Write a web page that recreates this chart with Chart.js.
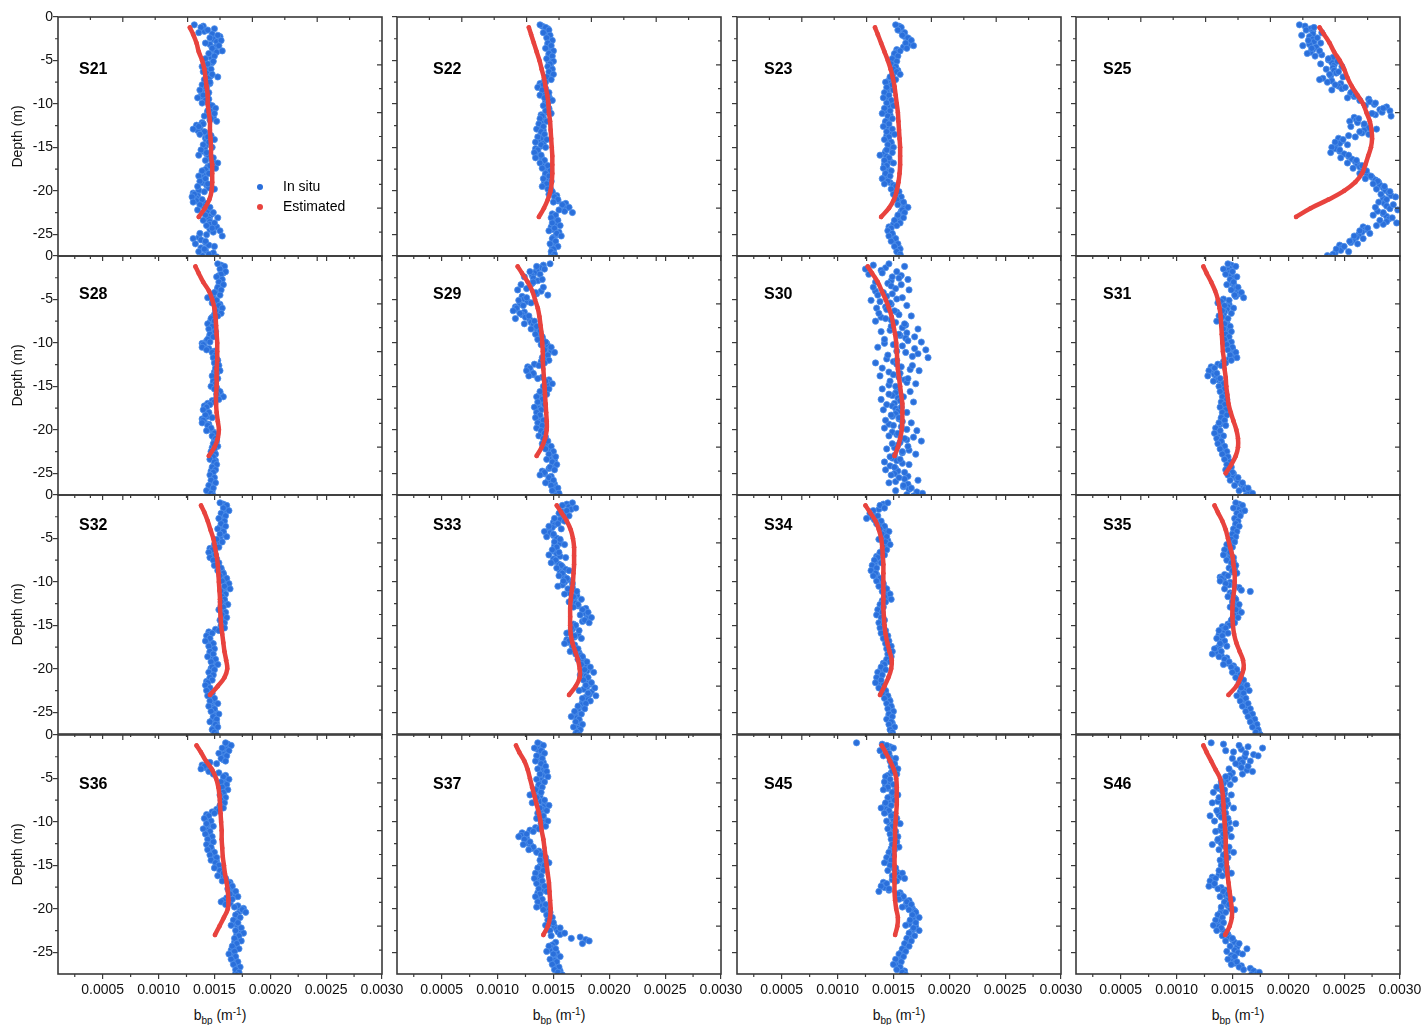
<!DOCTYPE html>
<html>
<head>
<meta charset="utf-8">
<script src="https://cdn.jsdelivr.net/npm/chart.js@4.4.1/dist/chart.umd.min.js"></script>
<style>
  html, body { margin: 0; padding: 0; background: #fff; }
  body { width: 1425px; height: 1025px; overflow: hidden; position: relative; }
  canvas { position: absolute; }
  .xt { position: absolute; top: 1007px; width: 324px; text-align: center;
        font: 14px "Liberation Sans", Arial, sans-serif; line-height: 16px; color: #111; }
  .xt sub { font-size: 10px; vertical-align: -4px; line-height: 0; }
  .xt sup { font-size: 10px; vertical-align: 5px; line-height: 0; }
</style>
</head>
<body>
<div class="xt" style="left:58px">b<sub>bp</sub> (m<sup>-1</sup>)</div>
<div class="xt" style="left:397px">b<sub>bp</sub> (m<sup>-1</sup>)</div>
<div class="xt" style="left:737px">b<sub>bp</sub> (m<sup>-1</sup>)</div>
<div class="xt" style="left:1076px">b<sub>bp</sub> (m<sup>-1</sup>)</div>
<script>
// x values are b_bp in units of 1e-4 m^-1, depths in m (negative = below surface)

// depth grids of the in situ profiles (two interleaved sample sets)
const inSituDepth = [
  -0.9, -1.2, -1.5, -1.8, -2.1, -2.4, -2.7, -3.0,
  -3.3, -3.6, -3.9, -4.2, -4.5, -4.8, -5.1, -5.4, -5.7, -6.0,
  -6.3, -6.6, -6.9, -7.2, -7.5, -7.8, -8.1, -8.4, -8.7, -9.0,
  -9.3, -9.6, -9.9, -10.2, -10.5, -10.8, -11.1, -11.4, -11.7, -12.0,
  -12.3, -12.6, -12.9, -13.2, -13.5, -13.8, -14.1, -14.4, -14.7, -15.0,
  -15.3, -15.6, -15.9, -16.2, -16.5, -16.8, -17.1, -17.4, -17.7, -18.0,
  -18.3, -18.6, -18.9, -19.2, -19.5, -19.8, -20.1, -20.4, -20.7, -21.0,
  -21.3, -21.6, -21.9, -22.2, -22.5, -22.8, -23.1, -23.4, -23.7, -24.0,
  -24.3, -24.6, -24.9, -25.2, -25.5, -25.8, -26.1, -26.4, -26.7, -27.0,
  -27.3, -27.6
];
const inSituDepthB = [
  -1.05, -1.35, -1.65, -1.95, -2.25, -2.55, -2.85,
  -3.15, -3.45, -3.75, -4.05, -4.35, -4.65, -4.95, -5.25, -5.55, -5.85,
  -6.15, -6.45, -6.75, -7.05, -7.35, -7.65, -7.95, -8.25, -8.55, -8.85,
  -9.15, -9.45, -9.75, -10.05, -10.35, -10.65, -10.95, -11.25, -11.55, -11.85,
  -12.15, -12.45, -12.75, -13.05, -13.35, -13.65, -13.95, -14.25, -14.55, -14.85,
  -15.15, -15.45, -15.75, -16.05, -16.35, -16.65, -16.95, -17.25, -17.55, -17.85,
  -18.15, -18.45, -18.75, -19.05, -19.35, -19.65, -19.95, -20.25, -20.55, -20.85,
  -21.15, -21.45, -21.75, -22.05, -22.35, -22.65, -22.95, -23.25, -23.55, -23.85,
  -24.15, -24.45, -24.75, -25.05, -25.35, -25.65, -25.95, -26.25, -26.55, -26.85,
  -27.15, -27.45
];

// depth grid of the estimated profiles
const estDepth = [-1.2, -2, -3, -4, -5, -6, -7, -8, -9, -10, -11, -12, -13,
  -14, -15, -16, -17, -18, -19, -20, -21, -22, -23, -24, -25];

const xTickMinor = [2.5, 7.5, 12.5, 17.5, 22.5, 27.5];
const yTickMinor = [-2.5, -7.5, -12.5, -17.5, -22.5];

// ---- row 1 ----
const s21InSitu = [13.2, 13.8, 14.4, 13.6, 15.3, 14.6, 15.6, 14.2,
  15.4, 14.8, 15.7, 14.5, 15.0, 14.2, 14.9, 14.4, 13.9, 14.7,
  14.0, 14.8, 15.3, 14.1, 14.6, 13.9, 14.3, 13.7, 14.5, 14.0,
  13.5, 14.2, 13.9, 14.8, 15.1, 14.4, 15.0, 14.1, 14.7, 15.2,
  14.0, 13.6, 13.1, 14.1, 13.7, 14.4, 15.0, 14.5, 14.0, 14.8,
  13.8, 14.3, 13.6, 14.9, 14.2, 15.3, 14.6, 15.1, 13.9, 14.5,
  13.6, 14.2, 13.7, 14.4, 13.5, 15.0, 14.1, 13.2, 13.0, 13.9,
  13.1, 13.7, 14.6, 13.5, 14.9, 14.2, 15.3, 14.0, 15.0, 14.3,
  14.8, 15.5, 13.7, 15.7, 13.1, 14.2, 13.3, 15.0, 14.1, 13.6,
  14.5, 15.2];
const s21InSituB = [14.0, 15.0, 14.1, 14.8, 15.5, 14.9, 15.2,
  14.6, 15.1, 14.9, 15.2, 14.6, 14.7, 14.1, 14.8, 14.3, 14.2,
  14.4, 14.3, 14.7, 14.5, 14.2, 14.6, 14.0, 14.1, 13.8, 14.4,
  13.8, 14.5, 14.3, 14.5, 14.7, 14.8, 14.4, 14.5, 14.9, 14.6,
  13.9, 13.4, 13.7, 13.5, 14.2, 14.7, 14.2, 14.3, 14.5, 14.2,
  14.1, 13.9, 14.3, 14.5, 14.7, 14.9, 14.8, 14.4, 14.2, 13.9,
  14.0, 13.9, 14.1, 13.9, 14.3, 14.5, 13.6, 13.1, 13.5, 13.4,
  13.4, 14.2, 14.0, 14.3, 14.5, 14.8, 14.6, 14.5, 14.6, 14.6,
  15.2, 14.6, 14.9, 14.3, 13.6, 13.8, 14.2, 14.5, 13.8, 14.2,
  14.9, 13.9];
const s21Est = [12.8, 13.1, 13.4, 13.6, 13.9, 14.1, 14.2, 14.3, 14.4, 14.4, 14.5, 14.6,
  14.6, 14.65, 14.7, 14.7, 14.8, 14.8, 14.8, 14.75, 14.55, 14.15, 13.6];

const s22InSitu = [13.8, 14.3, 14.6, 14.1, 14.7, 14.4, 14.9, 14.5,
  14.8, 14.3, 15.0, 14.6, 14.9, 14.4, 15.0, 14.7, 14.5, 14.9,
  14.6, 15.0, 14.4, 14.8, 14.3, 14.1, 13.6, 14.0, 14.6, 13.8,
  14.2, 14.9, 14.5, 14.1, 14.6, 14.3, 14.8, 14.0, 13.8, 14.4,
  13.7, 14.1, 13.5, 13.9, 14.2, 13.6, 14.4, 13.4, 13.9, 14.3,
  13.6, 13.3, 13.9, 13.4, 14.2, 13.8, 14.5, 14.0, 14.7, 14.3,
  14.6, 14.1, 14.8, 14.4, 14.0, 14.5, 14.9, 14.6, 15.1, 15.4,
  15.0, 15.8, 16.4, 15.5, 16.7, 15.2, 14.8, 15.4, 14.9, 15.6,
  15.1, 14.6, 15.3, 15.7, 14.9, 15.2, 14.7, 15.4, 15.0, 14.8,
  15.1, 14.9];
const s22InSituB = [14.0, 14.5, 14.3, 14.4, 14.6, 14.7, 14.7,
  14.5, 14.7, 14.8, 14.7, 14.6, 14.7, 14.8, 14.6, 14.7, 14.8,
  14.8, 14.7, 14.6, 14.5, 14.2, 13.8, 13.9, 14.3, 14.1, 14.0,
  14.6, 14.7, 14.3, 14.4, 14.5, 14.6, 14.4, 13.9, 14.1, 14.0,
  13.9, 13.8, 13.7, 14.1, 13.9, 14.0, 13.9, 13.6, 14.1, 13.9,
  13.4, 13.6, 13.6, 13.8, 14.0, 14.1, 14.2, 14.4, 14.5, 14.4,
  14.3, 14.5, 14.6, 14.2, 14.3, 14.7, 14.8, 14.9, 15.3, 15.2,
  15.4, 16.1, 15.9, 16.1, 16.0, 14.9, 15.1, 15.2, 15.3, 15.2,
  14.8, 15.0, 15.5, 15.3, 15.0, 15.0, 15.1, 15.2, 14.9, 15.0,
  15.0, 14.8];
const s22Est = [12.8, 13.0, 13.25, 13.5, 13.75, 13.95, 14.15, 14.3, 14.45, 14.55, 14.6, 14.7,
  14.75, 14.8, 14.85, 14.9, 14.9, 14.9, 14.85, 14.75, 14.5, 14.15, 13.7];

const s23InSitu = [15.2, 15.7, 15.4, 16.0, 15.8, 16.3, 16.6, 16.1,
  16.8, 16.2, 15.6, 15.1, 15.4, 14.9, 15.3, 14.8, 15.2, 15.0,
  15.3, 15.6, 14.7, 15.2, 14.3, 14.9, 14.4, 15.0, 14.2, 14.6,
  14.1, 14.8, 14.4, 15.0, 14.2, 14.7, 14.0, 14.5, 14.9, 14.3,
  14.6, 14.1, 14.9, 14.4, 15.1, 14.6, 14.2, 14.8, 14.5, 15.0,
  14.4, 14.9, 13.8, 14.6, 14.2, 15.0, 14.4, 14.1, 14.8, 14.3,
  14.7, 14.0, 14.5, 14.2, 15.2, 14.8, 15.5, 15.0, 15.7, 15.3,
  15.9, 15.4, 16.3, 15.8, 16.0, 15.4, 15.9, 15.1, 15.6, 15.3,
  14.8, 14.5, 14.9, 14.6, 15.2, 14.8, 15.4, 15.1, 15.6, 15.3,
  15.6, 15.5];
const s23InSituB = [15.5, 15.6, 15.7, 15.9, 16.0, 16.4, 16.3,
  16.5, 15.9, 15.3, 15.3, 15.1, 15.1, 15.0, 15.0, 15.1, 15.2,
  15.4, 15.0, 14.9, 14.7, 14.6, 14.6, 14.7, 14.6, 14.4, 14.3,
  14.5, 14.6, 14.7, 14.6, 14.5, 14.3, 14.2, 14.7, 14.6, 14.5,
  14.3, 14.5, 14.6, 14.8, 14.8, 14.4, 14.5, 14.6, 14.8, 14.7,
  14.6, 14.3, 14.2, 14.4, 14.6, 14.7, 14.2, 14.4, 14.5, 14.5,
  14.3, 14.2, 14.4, 14.7, 15.0, 15.2, 15.2, 15.4, 15.5, 15.6,
  15.6, 15.9, 16.0, 15.9, 15.7, 15.6, 15.5, 15.3, 15.4, 15.0,
  14.6, 14.7, 14.7, 14.9, 15.0, 15.1, 15.2, 15.3, 15.5, 15.4,
  15.5, 15.6];
const s23Est = [13.35, 13.6, 13.9, 14.2, 14.5, 14.75, 14.95, 15.1, 15.2, 15.3, 15.4, 15.45,
  15.5, 15.55, 15.6, 15.6, 15.6, 15.55, 15.45, 15.3, 15.05, 14.6, 13.9];

const s25InSitu = [21.0, 22.3, 21.6, 23.0, 21.2, 22.6, 21.8, 22.9,
  21.3, 22.1, 22.8, 21.7, 22.4, 23.6, 24.4, 22.9, 24.8, 23.4,
  24.5, 23.7, 24.9, 22.8, 23.5, 24.2, 25.1, 23.9, 25.6, 26.0,
  25.3, 26.4, 27.8, 26.9, 28.5, 29.1, 27.5, 29.2, 26.3, 25.5,
  26.8, 25.6, 27.9, 26.4, 27.2, 26.0, 24.9, 24.2, 25.3, 23.9,
  24.6, 23.8, 25.4, 24.7, 26.1, 25.3, 26.6, 25.8, 27.0, 26.4,
  27.4, 26.9, 28.0, 27.6, 28.6, 27.9, 29.1, 28.3, 29.6, 28.8,
  28.1, 29.4, 27.8, 29.8, 28.5, 27.6, 29.3, 28.2, 29.7, 27.9,
  27.1, 26.4, 27.3, 25.9, 26.7, 25.5, 26.2, 25.0, 24.3, 25.4,
  24.0, 23.8];
const s25InSituB = [21.5, 22.0, 22.2, 22.2, 21.9, 22.2, 22.3,
  21.9, 22.5, 22.2, 22.0, 23.0, 24.0, 23.6, 23.9, 24.1, 24.0,
  24.1, 24.3, 23.8, 23.1, 23.9, 24.7, 24.5, 24.8, 25.8, 25.6,
  25.9, 27.2, 27.3, 27.7, 28.8, 28.2, 28.4, 27.8, 25.9, 26.1,
  26.2, 26.8, 27.2, 26.8, 26.6, 25.4, 24.5, 24.8, 24.6, 24.2,
  24.2, 24.6, 25.0, 25.4, 25.7, 26.0, 26.2, 26.4, 26.7, 26.9,
  27.1, 27.5, 27.8, 28.1, 28.2, 28.5, 28.7, 29.0, 29.2, 28.5,
  28.7, 28.6, 28.8, 29.1, 28.0, 28.5, 28.8, 29.0, 28.8, 28.5,
  26.7, 26.9, 26.6, 26.3, 26.1, 25.8, 25.6, 24.6, 24.8, 24.7,
  24.2, 23.5];
const s25Est = [22.8, 23.2, 23.7, 24.1, 24.6, 25.0, 25.3, 25.7, 26.2, 26.7, 27.0, 27.3,
  27.45, 27.5, 27.4, 27.15, 26.9, 26.6, 26.0, 25.0, 23.6, 22.0, 20.7];

// ---- row 2 ----
const s28InSitu = [15.3, 15.9, 15.5, 16.0, 15.6, 15.2, 15.7, 15.4,
  15.8, 15.3, 15.6, 15.0, 15.5, 14.4, 15.2, 14.8, 15.4, 15.7,
  15.1, 15.6, 15.3, 14.7, 15.0, 14.4, 14.8, 14.5, 15.1, 14.6,
  14.9, 14.4, 14.6, 14.0, 13.9, 14.3, 14.8, 15.1, 14.9, 15.3,
  15.0, 15.4, 15.1, 15.5, 15.2, 14.8, 15.3, 14.9, 15.1, 14.7,
  15.0, 15.5, 15.2, 15.8, 15.4, 15.0, 14.6, 14.3, 14.0, 14.5,
  14.2, 14.8, 14.0, 13.9, 14.4, 14.7, 14.3, 15.0, 14.8, 15.1,
  15.2, 14.9, 15.3, 15.0, 14.7, 15.1, 14.9, 14.6, 15.0, 15.2,
  14.8, 15.1, 14.9, 14.6, 15.0, 14.7, 15.1, 14.5, 14.9, 14.3,
  14.7, 14.9];
const s28InSituB = [15.6, 15.7, 15.8, 15.8, 15.4, 15.5, 15.6,
  15.5, 15.4, 15.3, 15.2, 14.9, 14.8, 15.0, 15.1, 15.5, 15.4,
  15.4, 15.4, 15.0, 14.8, 14.7, 14.6, 14.6, 14.8, 14.8, 14.7,
  14.6, 14.5, 14.3, 13.9, 14.1, 14.5, 15.0, 15.0, 15.1, 15.2,
  15.2, 15.3, 15.3, 15.3, 15.0, 15.0, 15.1, 15.0, 14.9, 14.9,
  15.2, 15.3, 15.5, 15.6, 15.2, 14.8, 14.4, 14.1, 14.2, 14.3,
  14.5, 14.4, 13.9, 14.1, 14.5, 14.5, 14.6, 14.9, 14.9, 15.2,
  15.0, 15.1, 15.1, 14.8, 14.9, 15.0, 14.8, 14.8, 15.1, 15.0,
  14.9, 15.0, 14.7, 14.8, 14.8, 14.9, 14.8, 14.7, 14.6, 14.5,
  14.8, 14.6];
const s28Est = [13.3, 13.6, 14.0, 14.5, 14.8, 15.0, 15.1, 15.15, 15.2, 15.25, 15.25, 15.25,
  15.2, 15.2, 15.2, 15.15, 15.15, 15.2, 15.3, 15.4, 15.3, 15.0, 14.5];

const s29InSitu = [14.7, 13.5, 14.2, 12.9, 13.8, 12.4, 14.0, 13.2,
  12.1, 14.1, 11.8, 13.4, 14.5, 12.6, 11.9, 13.0, 12.3, 11.7,
  11.4, 12.0, 12.8, 11.6, 13.3, 12.4, 13.5, 13.0, 13.8, 13.4,
  14.0, 13.6, 14.3, 13.9, 14.8, 14.2, 15.1, 14.5, 14.0, 14.6,
  14.2, 13.7, 12.9, 12.6, 13.2, 12.8, 13.6, 14.3, 14.9, 14.1,
  14.6, 13.8, 14.4, 13.5, 14.0, 13.6, 14.2, 13.3, 13.9, 13.5,
  13.8, 13.4, 14.1, 13.6, 14.0, 13.5, 13.9, 14.2, 13.7, 14.1,
  14.5, 14.0, 14.8, 14.3, 15.0, 14.6, 15.2, 14.4, 14.9, 15.3,
  14.7, 15.1, 14.2, 13.8, 14.6, 15.0, 14.3, 14.8, 15.4, 14.9,
  15.5, 15.2];
const s29InSituB = [14.1, 13.8, 13.5, 13.3, 13.1, 13.2, 13.6,
  13.1, 12.9, 12.6, 13.9, 13.5, 12.2, 12.4, 12.7, 12.0, 11.6,
  11.7, 12.4, 12.2, 12.5, 12.9, 13.0, 13.2, 13.4, 13.6, 13.7,
  13.8, 14.0, 14.1, 14.4, 14.5, 14.7, 14.8, 14.3, 14.3, 14.4,
  13.9, 13.3, 12.7, 12.9, 13.0, 13.2, 14.0, 14.6, 14.5, 14.4,
  14.2, 14.1, 13.9, 13.7, 13.8, 13.9, 13.7, 13.6, 13.7, 13.7,
  13.6, 13.8, 13.8, 13.8, 13.7, 13.7, 14.0, 14.0, 13.9, 14.3,
  14.2, 14.4, 14.5, 14.6, 14.8, 14.9, 14.8, 14.6, 15.1, 15.0,
  14.9, 14.6, 14.0, 14.2, 14.8, 14.6, 14.5, 15.1, 15.1, 15.2,
  15.3, 15.4];
const s29Est = [11.8, 12.2, 12.7, 13.1, 13.35, 13.6, 13.75, 13.85, 13.95, 14.0, 14.05, 14.05,
  14.1, 14.15, 14.2, 14.25, 14.3, 14.35, 14.4, 14.4, 14.25, 13.95, 13.5];

const s30InSitu = [14.6, 16.0, 12.5, 15.3, 12.8, 14.9, 16.3, 13.4,
  15.7, 13.2, 16.4, 14.1, 13.6, 15.8, 13.0, 14.7, 16.2, 13.5,
  15.1, 13.7, 16.6, 14.3, 13.4, 16.0, 14.8, 17.2, 13.9, 15.5,
  16.9, 14.2, 17.5, 15.0, 13.6, 17.9, 16.1, 14.5, 18.1, 15.3,
  13.4, 16.7, 14.0, 17.3, 15.6, 13.8, 16.3, 14.7, 17.0, 15.2,
  14.0, 16.5, 14.6, 15.9, 13.9, 16.8, 14.4, 15.7, 14.1, 16.2,
  14.8, 15.5, 14.3, 16.6, 15.0, 14.2, 17.1, 15.4, 14.6, 16.0,
  17.5, 14.9, 16.3, 14.4, 15.8, 17.0, 14.7, 15.6, 14.2, 16.4,
  15.1, 14.3, 16.0, 14.8, 15.5, 17.2, 14.6, 15.9, 16.6, 15.2,
  17.6, 16.8];
const s30InSituB = [13.2, 14.3, 13.9, 14.0, 15.7, 15.5, 14.8,
  14.5, 14.8, 15.2, 13.4, 14.9, 14.4, 15.3, 13.8, 14.8, 14.3,
  14.4, 15.3, 15.5, 13.9, 14.8, 15.2, 16.1, 15.8, 14.7, 16.2,
  15.6, 16.1, 16.3, 14.2, 15.8, 16.9, 15.3, 17.2, 16.7, 14.4,
  15.0, 15.3, 15.7, 16.5, 14.6, 15.0, 15.5, 16.0, 16.2, 14.6,
  15.3, 15.5, 15.2, 14.9, 15.4, 15.6, 15.1, 14.9, 15.2, 15.4,
  15.2, 14.9, 15.5, 15.8, 14.6, 15.7, 16.2, 14.9, 15.3, 16.8,
  16.2, 15.6, 15.4, 15.1, 16.4, 15.8, 15.1, 14.9, 15.3, 15.8,
  14.7, 15.2, 15.4, 15.1, 16.3, 16.0, 15.2, 16.3, 15.9, 16.4,
  17.1, 16.2];
const s30Est = [12.7, 13.1, 13.6, 13.95, 14.3, 14.6, 14.85, 15.0, 15.15, 15.25, 15.3, 15.35,
  15.4, 15.5, 15.6, 15.7, 15.8, 15.8, 15.8, 15.75, 15.6, 15.4, 15.1];

const s31InSitu = [14.6, 15.3, 14.2, 15.0, 14.4, 15.4, 14.8, 15.1,
  14.5, 15.5, 14.9, 15.8, 15.2, 16.0, 14.7, 13.7, 14.3, 15.1,
  14.1, 14.9, 13.8, 14.6, 13.6, 14.3, 14.8, 14.2, 14.9, 14.4,
  14.7, 14.3, 14.9, 14.5, 15.0, 14.6, 15.3, 14.8, 15.4, 14.9,
  14.4, 14.0, 13.4, 12.9, 13.6, 12.8, 13.9, 13.3, 14.2, 13.8,
  14.3, 13.9, 14.4, 14.1, 14.5, 14.0, 14.3, 13.9, 14.4, 14.1,
  14.5, 14.0, 14.3, 13.8, 14.4, 13.5, 13.9, 13.4, 14.2, 13.6,
  14.0, 13.7, 14.3, 13.9, 14.5, 14.1, 14.6, 14.3, 14.8, 14.5,
  14.9, 14.4, 15.0, 14.6, 15.5, 14.8, 15.9, 15.2, 16.4, 15.6,
  16.8, 16.2];
const s31InSituB = [14.9, 14.7, 14.6, 14.7, 14.9, 15.1, 14.9,
  15.0, 15.2, 15.3, 15.5, 15.6, 15.3, 14.2, 14.0, 14.7, 14.6,
  14.5, 14.3, 14.2, 14.1, 13.9, 14.5, 14.5, 14.6, 14.6, 14.5,
  14.5, 14.6, 14.7, 14.7, 14.8, 15.0, 15.1, 15.1, 15.2, 14.7,
  14.2, 13.7, 13.1, 13.2, 13.2, 13.4, 13.6, 13.7, 14.0, 14.1,
  14.1, 14.2, 14.2, 14.3, 14.2, 14.2, 14.1, 14.2, 14.3, 14.3,
  14.2, 14.1, 14.0, 14.1, 13.9, 13.7, 13.6, 13.8, 13.9, 13.8,
  13.9, 14.0, 14.1, 14.2, 14.3, 14.4, 14.4, 14.6, 14.6, 14.7,
  14.6, 14.7, 14.8, 15.1, 15.1, 15.4, 15.5, 15.8, 16.0, 16.1,
  16.5, 16.4];
const s31Est = [12.4, 12.7, 13.1, 13.45, 13.7, 13.85, 13.95, 14.0, 14.05, 14.1, 14.15, 14.25,
  14.3, 14.4, 14.45, 14.55, 14.65, 14.85, 15.1, 15.35, 15.5, 15.5, 15.3, 14.9, 14.4];

// ---- row 3 ----
const s32InSitu = [15.5, 16.1, 15.8, 16.3, 15.6, 16.0, 15.4, 15.9,
  15.6, 16.0, 15.3, 15.8, 15.5, 16.1, 15.2, 15.7, 15.0, 15.4,
  14.8, 14.5, 15.1, 14.6, 14.9, 15.4, 15.0, 15.6, 15.3, 15.8,
  15.5, 16.1, 15.7, 16.3, 15.9, 16.4, 15.6, 16.0, 15.7, 15.9,
  15.6, 16.2, 15.8, 15.4, 16.0, 15.7, 16.1, 15.5, 15.9, 15.6,
  15.9, 15.4, 14.8, 14.3, 14.6, 14.2, 14.9, 14.5, 15.0, 14.6,
  14.9, 14.4, 15.1, 14.7, 15.3, 14.8, 15.0, 14.5, 14.9, 14.6,
  14.8, 14.4, 14.2, 14.6, 14.3, 14.8, 14.4, 15.0, 14.6, 15.3,
  14.5, 15.0, 14.7, 15.4, 14.9, 15.2, 14.6, 15.1, 15.3, 14.8,
  15.0, 15.2];
const s32InSituB = [15.8, 15.9, 16.1, 15.9, 15.8, 15.7, 15.6,
  15.8, 15.6, 15.5, 15.7, 15.8, 15.6, 15.5, 15.3, 15.2, 15.1,
  14.6, 14.8, 14.8, 14.7, 15.2, 15.2, 15.3, 15.4, 15.6, 15.7,
  15.8, 15.9, 16.0, 16.1, 16.2, 16.0, 15.8, 15.8, 15.8, 15.8,
  15.9, 16.0, 15.6, 15.7, 15.8, 15.9, 15.8, 15.7, 15.7, 15.8,
  15.6, 15.1, 14.5, 14.5, 14.4, 14.5, 14.7, 14.7, 14.8, 14.8,
  14.6, 14.7, 14.9, 15.0, 15.0, 14.9, 14.7, 14.7, 14.8, 14.7,
  14.6, 14.3, 14.4, 14.4, 14.5, 14.6, 14.7, 14.8, 14.9, 14.9,
  14.7, 14.8, 15.0, 15.1, 15.0, 14.9, 14.8, 15.2, 15.0, 14.9,
  15.1, 15.1];
const s32Est = [13.8, 14.1, 14.4, 14.65, 14.9, 15.05, 15.2, 15.3, 15.35, 15.4, 15.45, 15.5,
  15.5, 15.55, 15.6, 15.7, 15.8, 15.9, 16.05, 16.15, 15.9, 15.3, 14.6];

const s33InSitu = [16.7, 15.8, 17.0, 16.2, 15.5, 16.4, 15.1, 16.0,
  15.4, 14.6, 15.7, 14.2, 15.0, 14.4, 15.6, 15.1, 16.0, 15.3,
  14.9, 15.5, 14.6, 16.1, 15.2, 14.8, 15.7, 15.3, 16.4, 15.8,
  15.5, 16.2, 15.9, 16.7, 15.4, 16.3, 17.1, 16.0, 16.8, 17.5,
  16.4, 17.2, 16.8, 17.6, 18.1, 17.4, 18.4, 17.8, 18.2, 17.0,
  16.6, 17.3, 16.2, 16.9, 17.5, 16.4, 16.0, 16.7, 17.2, 16.5,
  17.0, 17.6, 17.2, 18.0, 17.5, 18.3, 17.8, 18.6, 17.4, 18.1,
  17.7, 18.4, 17.9, 18.7, 17.3, 18.1, 18.8, 17.6, 18.3, 17.9,
  17.2, 17.8, 16.9, 17.5, 16.6, 17.3, 17.0, 17.6, 16.8, 17.4,
  17.1, 17.3];
const s33InSituB = [16.2, 16.4, 16.6, 15.8, 15.9, 15.7, 15.6,
  15.0, 15.1, 14.9, 14.6, 14.7, 15.0, 15.3, 15.6, 15.6, 15.1,
  15.2, 15.0, 15.3, 15.6, 15.0, 15.2, 15.5, 15.8, 16.1, 15.6,
  15.8, 16.0, 16.3, 16.0, 15.8, 16.7, 16.5, 16.4, 17.1, 16.9,
  16.8, 17.0, 17.2, 17.9, 17.7, 17.9, 18.1, 18.0, 17.6, 16.8,
  16.9, 16.7, 16.5, 17.2, 16.9, 16.2, 16.3, 16.9, 16.8, 16.7,
  17.3, 17.4, 17.6, 17.7, 17.9, 18.0, 18.2, 18.0, 17.7, 17.9,
  18.0, 18.1, 18.3, 18.0, 17.7, 18.4, 18.2, 17.9, 18.1, 17.6,
  17.5, 17.3, 17.2, 17.0, 16.9, 17.1, 17.3, 17.2, 17.1, 17.2,
  17.2, 17.0];
const s33Est = [15.3, 15.7, 16.2, 16.55, 16.75, 16.85, 16.85, 16.85, 16.8, 16.75, 16.65, 16.55,
  16.5, 16.5, 16.5, 16.55, 16.7, 16.95, 17.2, 17.35, 17.35, 17.0, 16.4];

const s34InSitu = [14.5, 13.8, 14.2, 13.2, 12.9, 13.6, 12.6, 13.9,
  13.5, 14.2, 13.8, 14.6, 14.0, 14.4, 13.7, 14.3, 14.7, 14.1,
  14.4, 13.8, 14.2, 13.6, 13.3, 13.9, 13.1, 13.5, 13.0, 13.4,
  13.2, 13.8, 13.5, 14.1, 13.7, 14.4, 14.0, 14.7, 14.2, 14.8,
  14.3, 13.8, 14.1, 13.6, 14.0, 13.5, 13.9, 14.2, 13.7, 14.1,
  13.8, 14.3, 13.9, 14.5, 14.1, 14.6, 14.3, 14.8, 14.4, 14.9,
  14.5, 14.8, 14.4, 14.7, 14.2, 13.9, 14.3, 13.6, 14.0, 13.5,
  13.9, 13.4, 14.1, 13.7, 14.3, 14.0, 14.5, 14.2, 14.7, 14.4,
  14.8, 14.5, 15.0, 14.6, 14.9, 14.4, 14.8, 14.6, 15.1, 14.7,
  14.9, 14.8];
const s34InSituB = [14.1, 14.0, 13.7, 13.0, 13.2, 13.1, 13.3,
  13.8, 14.0, 14.2, 14.3, 14.2, 14.0, 14.0, 14.5, 14.4, 14.2,
  14.1, 14.0, 13.9, 13.5, 13.6, 13.5, 13.3, 13.2, 13.2, 13.3,
  13.5, 13.6, 13.8, 13.9, 14.0, 14.2, 14.3, 14.5, 14.5, 14.5,
  14.0, 14.0, 13.9, 13.8, 13.8, 13.7, 14.0, 14.0, 13.9, 14.0,
  14.0, 14.1, 14.2, 14.3, 14.3, 14.4, 14.5, 14.6, 14.7, 14.7,
  14.6, 14.6, 14.6, 14.5, 14.1, 14.1, 14.0, 13.8, 13.7, 13.7,
  13.6, 13.8, 13.9, 14.0, 14.1, 14.3, 14.3, 14.5, 14.6, 14.6,
  14.6, 14.8, 14.8, 14.7, 14.6, 14.6, 14.7, 14.9, 14.9, 14.8,
  14.8, 14.9];
const s34Est = [12.5, 12.9, 13.4, 13.7, 13.9, 14.0, 14.05, 14.1, 14.1, 14.1, 14.1, 14.1,
  14.1, 14.15, 14.2, 14.3, 14.45, 14.65, 14.85, 14.8, 14.55, 14.2, 13.8];

const s35InSitu = [15.3, 15.9, 15.1, 16.1, 15.4, 15.7, 15.2, 15.5,
  15.3, 15.6, 15.1, 15.4, 15.0, 15.3, 14.9, 15.2, 14.5, 15.0,
  14.3, 14.8, 14.2, 15.1, 14.5, 14.9, 15.3, 14.7, 15.0, 15.4,
  14.6, 14.0, 13.9, 14.4, 15.2, 14.3, 16.6, 15.0, 14.6, 15.3,
  15.0, 15.6, 14.8, 15.3, 15.8, 15.1, 15.5, 14.9, 15.2, 14.7,
  14.4, 13.8, 14.6, 14.1, 13.6, 14.3, 13.9, 14.5, 13.4, 14.0,
  13.2, 13.8, 14.3, 14.7, 14.2, 14.9, 15.4, 15.0, 15.7, 15.3,
  16.0, 15.6, 16.3, 15.8, 16.5, 16.0, 15.4, 16.2, 15.7, 16.4,
  15.9, 16.6, 16.2, 16.8, 16.4, 17.0, 16.6, 17.2, 16.8, 17.3,
  17.1, 17.5];
const s35InSituB = [15.6, 15.5, 15.6, 15.8, 15.5, 15.4, 15.3,
  15.4, 15.3, 15.3, 15.2, 15.1, 15.1, 15.0, 14.8, 14.8, 14.6,
  14.5, 14.5, 14.7, 14.8, 14.7, 15.1, 15.0, 14.9, 15.2, 15.0,
  14.3, 13.9, 14.2, 14.8, 14.7, 15.6, 15.8, 14.8, 14.9, 15.2,
  15.3, 15.2, 15.0, 15.5, 15.5, 15.3, 15.2, 15.0, 14.9, 14.6,
  14.1, 14.2, 14.3, 13.8, 14.0, 14.1, 14.2, 13.9, 13.7, 13.6,
  13.5, 14.0, 14.5, 14.4, 14.6, 15.1, 15.2, 15.3, 15.5, 15.6,
  15.8, 15.9, 16.0, 16.2, 16.2, 15.7, 15.8, 16.0, 16.0, 16.1,
  16.2, 16.4, 16.5, 16.6, 16.7, 16.8, 16.9, 17.0, 17.0, 17.2,
  17.3, 17.4];
const s35Est = [13.4, 13.7, 14.1, 14.4, 14.6, 14.8, 15.0, 15.1, 15.2, 15.2, 15.15, 15.05,
  15.0, 15.0, 15.05, 15.15, 15.35, 15.65, 15.95, 16.0, 15.75, 15.35, 14.65];

// ---- row 4 ----
const s36InSitu = [16.0, 16.5, 15.7, 16.3, 15.4, 16.1, 15.6, 16.0,
  15.2, 14.1, 13.8, 14.5, 14.9, 15.8, 16.3, 15.6, 16.1, 15.7,
  16.2, 15.8, 15.5, 16.0, 15.6, 15.9, 15.5, 15.8, 15.4, 15.0,
  14.5, 14.1, 14.7, 14.3, 14.9, 14.0, 14.6, 14.2, 14.8, 14.4,
  14.9, 14.3, 14.7, 14.4, 15.0, 14.6, 15.2, 14.7, 15.1, 15.4,
  15.0, 15.5, 15.8, 15.3, 16.0, 15.7, 16.3, 16.6, 16.2, 16.9,
  16.4, 17.1, 16.6, 15.6, 16.0, 16.8, 17.5, 17.8, 16.9, 17.3,
  16.7, 17.1, 16.5, 17.4, 16.9, 17.6, 17.2, 16.8, 17.4, 17.0,
  16.6, 17.2, 16.8, 16.3, 16.9, 16.5, 17.1, 16.7, 17.3, 16.9,
  17.2, 17.0];
const s36InSituB = [16.2, 16.1, 16.0, 15.8, 15.8, 15.8, 15.8,
  14.6, 13.9, 14.2, 14.7, 15.4, 16.0, 15.9, 15.9, 15.9, 16.0,
  16.0, 15.6, 15.8, 15.8, 15.7, 15.7, 15.6, 15.6, 15.2, 14.8,
  14.3, 14.4, 14.5, 14.6, 14.4, 14.3, 14.4, 14.5, 14.6, 14.6,
  14.6, 14.5, 14.5, 14.7, 14.8, 14.9, 14.9, 14.9, 15.2, 15.2,
  15.3, 15.6, 15.5, 15.6, 15.8, 16.0, 16.4, 16.4, 16.5, 16.6,
  16.7, 16.9, 16.1, 15.8, 16.4, 17.1, 17.6, 17.3, 17.1, 17.0,
  16.9, 16.8, 16.9, 17.1, 17.2, 17.4, 17.0, 17.1, 17.2, 16.8,
  16.9, 17.0, 16.5, 16.6, 16.7, 16.8, 16.9, 17.0, 17.1, 17.1,
  17.1, 16.9];
const s36Est = [13.4, 13.8, 14.25, 14.8, 15.15, 15.35, 15.45, 15.5, 15.55, 15.6, 15.65, 15.65,
  15.7, 15.75, 15.85, 15.95, 16.1, 16.2, 16.25, 16.2, 15.85, 15.45, 15.05];

const s37InSitu = [13.6, 14.1, 13.3, 13.9, 14.2, 13.5, 14.0, 13.4,
  13.9, 14.3, 13.6, 14.4, 13.8, 14.5, 13.5, 14.2, 13.7, 14.0,
  13.4, 13.9, 12.9, 13.5, 14.2, 13.1, 14.6, 13.8, 14.4, 13.6,
  14.1, 13.5, 14.5, 13.9, 14.3, 13.7, 13.2, 12.6, 11.9, 12.4,
  12.9, 12.3, 13.2, 12.8, 13.5, 13.9, 14.3, 13.8, 14.6, 14.2,
  13.6, 14.1, 13.4, 13.9, 13.3, 14.0, 13.5, 14.2, 13.7, 14.4,
  13.8, 13.4, 14.0, 13.6, 14.3, 13.5, 14.1, 14.7, 14.4, 14.9,
  14.5, 15.0, 14.3, 15.6, 14.7, 16.0, 14.8, 16.6, 18.2, 17.6,
  14.6, 15.2, 14.4, 15.0, 15.6, 14.7, 15.3, 14.9, 15.5, 15.1,
  15.4, 15.8];
const s37InSituB = [13.8, 13.7, 13.6, 14.0, 13.8, 13.7, 13.7,
  14.1, 13.9, 14.0, 14.1, 14.1, 14.0, 13.8, 13.9, 13.8, 13.7,
  13.6, 13.4, 13.2, 13.8, 13.6, 13.9, 14.2, 14.1, 14.0, 13.8,
  13.8, 14.0, 14.2, 14.1, 14.0, 13.4, 12.9, 12.2, 12.1, 12.6,
  12.6, 12.7, 13.0, 13.1, 13.7, 14.1, 14.0, 14.2, 14.4, 13.9,
  13.8, 13.7, 13.6, 13.6, 13.6, 13.7, 13.8, 13.9, 14.0, 14.1,
  13.6, 13.7, 13.8, 13.9, 13.9, 13.8, 14.4, 14.5, 14.6, 14.7,
  14.7, 14.6, 14.9, 15.1, 15.3, 15.4, 15.6, 17.4, 17.9, 15.2,
  14.9, 14.8, 14.7, 15.3, 15.1, 15.0, 15.1, 15.2, 15.3, 15.3,
  15.6, 15.6];
const s37Est = [11.65, 11.95, 12.4, 12.7, 12.9, 13.1, 13.3, 13.5, 13.7, 13.85, 13.95, 14.1,
  14.2, 14.3, 14.4, 14.5, 14.6, 14.65, 14.7, 14.75, 14.7, 14.5, 14.1];

const s45InSitu = [11.7, 14.4, 15.0, 13.8, 14.6, 14.1, 15.2, 14.7,
  15.1, 14.8, 15.4, 14.9, 15.3, 14.3, 14.7, 14.2, 15.0, 14.5,
  14.1, 14.9, 15.4, 14.5, 15.1, 14.3, 14.8, 13.9, 14.6, 14.2,
  14.8, 15.3, 14.4, 15.6, 14.9, 14.5, 15.2, 14.7, 15.4, 14.8,
  15.3, 14.9, 15.5, 15.1, 14.6, 15.0, 14.4, 14.8, 14.2, 14.7,
  15.2, 14.5, 15.8, 14.9, 16.0, 15.3, 14.4, 13.9, 14.6, 13.7,
  15.4, 15.9, 15.5, 16.2, 16.6, 15.8, 16.4, 17.0, 16.7, 17.3,
  16.5, 17.0, 16.1, 16.8, 17.3, 16.4, 16.9, 16.2, 16.6, 16.0,
  16.4, 15.8, 16.1, 15.5, 15.9, 15.2, 15.7, 15.0, 15.6, 15.3,
  15.8, 16.1];
const s45InSituB = [14.0, 14.7, 14.4, 14.2, 14.4, 14.7, 14.9,
  14.9, 15.1, 15.1, 15.1, 14.8, 14.5, 14.4, 14.6, 14.7, 14.3,
  14.5, 15.1, 14.9, 14.8, 14.7, 14.5, 14.3, 14.2, 14.4, 14.5,
  15.0, 14.9, 15.0, 15.2, 14.7, 14.8, 15.0, 15.0, 15.1, 15.0,
  15.1, 15.2, 15.3, 14.8, 14.8, 14.7, 14.6, 14.5, 14.4, 14.9,
  14.8, 15.1, 15.3, 15.5, 15.6, 14.9, 14.1, 14.2, 14.2, 14.6,
  15.6, 15.7, 15.8, 16.4, 16.2, 16.1, 16.7, 16.9, 17.0, 16.9,
  16.7, 16.5, 16.4, 17.0, 16.8, 16.6, 16.5, 16.4, 16.3, 16.2,
  16.1, 16.0, 15.8, 15.7, 15.6, 15.5, 15.4, 15.3, 15.4, 15.5,
  16.0, 15.9];
const s45Est = [13.95, 14.3, 14.7, 15.05, 15.25, 15.3, 15.3, 15.3, 15.25, 15.2, 15.15, 15.15,
  15.1, 15.1, 15.1, 15.1, 15.1, 15.1, 15.15, 15.25, 15.4, 15.35, 15.15];

const s46InSitu = [13.1, 15.6, 17.7, 14.4, 16.2, 17.3, 15.0, 16.6,
  15.3, 16.4, 14.7, 16.8, 15.9, 14.4, 15.2, 14.0, 14.8, 13.6,
  14.3, 13.3, 14.9, 13.8, 14.5, 13.2, 14.1, 15.1, 13.6, 14.4,
  13.0, 14.6, 13.4, 15.3, 14.0, 14.8, 13.5, 14.2, 14.9, 13.7,
  14.3, 13.2, 14.7, 13.8, 15.1, 14.2, 14.6, 13.9, 14.4, 14.0,
  14.5, 13.8, 14.9, 14.1, 13.5, 13.0, 13.4, 12.9, 13.7, 14.2,
  14.6, 13.9, 15.0, 14.3, 14.7, 14.0, 15.2, 14.4, 13.7, 14.1,
  13.5, 14.2, 13.3, 14.0, 13.6, 14.5, 14.1, 15.0, 14.4, 15.6,
  14.8, 16.3, 14.5, 15.9, 15.2, 14.6, 15.4, 14.9, 15.6, 16.0,
  17.4, 16.7];
const s46InSituB = [14.2, 16.4, 15.8, 15.1, 16.9, 16.1, 15.7,
  15.9, 15.6, 15.8, 16.3, 15.0, 14.8, 14.6, 14.4, 14.2, 14.0,
  13.8, 14.1, 14.3, 14.2, 13.9, 13.7, 14.6, 14.4, 14.0, 13.7,
  13.8, 14.0, 14.4, 14.7, 14.4, 14.1, 13.9, 14.5, 14.3, 14.0,
  13.7, 14.0, 14.2, 14.5, 14.6, 14.4, 14.2, 14.2, 14.2, 14.3,
  14.1, 14.4, 14.5, 13.8, 13.2, 13.2, 13.1, 13.3, 14.0, 14.4,
  14.2, 14.4, 14.6, 14.5, 14.3, 14.6, 14.8, 14.0, 13.9, 13.8,
  13.9, 13.8, 13.6, 13.8, 14.0, 14.3, 14.6, 14.7, 15.0, 15.2,
  15.5, 15.4, 15.2, 15.5, 14.9, 15.0, 15.1, 15.2, 15.8, 16.6,
  16.9, 17.2];
const s46Est = [12.4, 12.7, 13.1, 13.5, 13.9, 14.05, 14.15, 14.2, 14.25, 14.3, 14.35, 14.4,
  14.4, 14.45, 14.5, 14.55, 14.65, 14.75, 14.85, 14.95, 14.95, 14.75, 14.35];

const stations = ['S21', 'S22', 'S23', 'S25', 'S28', 'S29', 'S30', 'S31',
                  'S32', 'S33', 'S34', 'S35', 'S36', 'S37', 'S45', 'S46'];
const inSituSeries = [s21InSitu, s22InSitu, s23InSitu, s25InSitu, s28InSitu, s29InSitu, s30InSitu, s31InSitu,
                      s32InSitu, s33InSitu, s34InSitu, s35InSitu, s36InSitu, s37InSitu, s45InSitu, s46InSitu];
const inSituSeriesB = [s21InSituB, s22InSituB, s23InSituB, s25InSituB, s28InSituB, s29InSituB, s30InSituB, s31InSituB,
                       s32InSituB, s33InSituB, s34InSituB, s35InSituB, s36InSituB, s37InSituB, s45InSituB, s46InSituB];
const estSeries = [s21Est, s22Est, s23Est, s25Est, s28Est, s29Est, s30Est, s31Est,
                   s32Est, s33Est, s34Est, s35Est, s36Est, s37Est, s45Est, s46Est];

// === layout ===
const COL_LEFT = [58, 397, 737, 1076];
const ROW_TOP = [17, 256, 495, 735];
const PLOT_W = 324, PLOT_H = 239;
const M_LEFT = 58, M_TOP = 12, M_RIGHT = 30, M_BOTTOM = 45;
const LABEL_DX = [21, 36, 27, 27];
const LABEL_DY = [53, 39, 31, 50];

const BLUE = '#2a6fdb', BLUE_EDGE = '#5190ea';
const RED = '#e8433e';
const AXIS = '#3a3a3a';
const FONT = '"Liberation Sans", Arial, sans-serif';

Chart.defaults.font.family = FONT;
Chart.defaults.font.size = 14;
Chart.defaults.color = '#111';

// frame, minor ticks, mirrored top/right ticks, station label, legend
const framePlugin = {
    id: 'originFrame',
    afterDraw(chart, args, opts) {
        const { ctx, chartArea: a } = chart;
        const xs = chart.scales.x, ys = chart.scales.y;
        const w = a.right - a.left, h = a.bottom - a.top;
        ctx.save();
        ctx.strokeStyle = AXIS;
        ctx.lineWidth = 1.2;
        ctx.beginPath();
        yTickMinor.forEach(v => {
            const y = ys.getPixelForValue(v);
            ctx.moveTo(a.left, y); ctx.lineTo(a.left - 3, y);
        });
        xTickMinor.forEach(v => {
            const x = xs.getPixelForValue(v);
            ctx.moveTo(x, a.bottom); ctx.lineTo(x, a.bottom + 3);
        });
        for (let k = 1; k < 10; k++) {
            const len = k % 2 ? 3 : 5;
            const x = a.left + w * k / 10;
            ctx.moveTo(x, a.top); ctx.lineTo(x, a.top + len);
            const y = a.top + h * k / 10;
            ctx.moveTo(a.right, y); ctx.lineTo(a.right - len, y);
        }
        ctx.stroke();
        ctx.lineWidth = 1.6;
        ctx.strokeRect(a.left, a.top, w, h);

        ctx.fillStyle = '#000';
        ctx.textBaseline = 'middle';
        ctx.font = 'bold 16px ' + FONT;
        ctx.fillText(opts.name, a.left + opts.labelDx, a.top + opts.labelDy);

        if (opts.legend) {
            ctx.font = '14px ' + FONT;
            const items = [['In situ', BLUE, 170], ['Estimated', RED, 190]];
            items.forEach(([text, color, dy]) => {
                ctx.beginPath();
                ctx.arc(a.left + 202, a.top + dy, 3, 0, Math.PI * 2);
                ctx.fillStyle = color;
                ctx.fill();
                ctx.fillStyle = '#000';
                ctx.fillText(text, a.left + 225, a.top + dy);
            });
        }
        ctx.restore();
    }
};

function zip(xs, depths) {
    return xs.map((x, i) => ({ x: x, y: depths[i] }));
}

const inSituStyle = {
    pointRadius: 3.1,
    pointBackgroundColor: BLUE,
    pointBorderColor: BLUE_EDGE,
    pointBorderWidth: 0.8
};

stations.forEach((name, idx) => {
    const col = idx % 4, row = Math.floor(idx / 4);
    const canvas = document.createElement('canvas');
    const cw = M_LEFT + PLOT_W + M_RIGHT, ch = M_TOP + PLOT_H + M_BOTTOM;
    canvas.width = cw; canvas.height = ch;
    canvas.style.width = cw + 'px'; canvas.style.height = ch + 'px';
    canvas.style.left = (COL_LEFT[col] - M_LEFT) + 'px';
    canvas.style.top = (ROW_TOP[row] - M_TOP) + 'px';
    document.body.appendChild(canvas);

    new Chart(canvas, {
        type: 'scatter',
        data: {
            datasets: [
                {
                    label: 'Estimated',
                    data: zip(estSeries[idx], estDepth),
                    showLine: true,
                    tension: 0.4,
                    borderColor: RED,
                    borderWidth: 4.5,
                    borderCapStyle: 'round',
                    pointRadius: 2.3,
                    pointBackgroundColor: RED,
                    pointBorderWidth: 0
                },
                Object.assign({ label: 'In situ', data: zip(inSituSeries[idx], inSituDepth) }, inSituStyle),
                Object.assign({ label: 'In situ', data: zip(inSituSeriesB[idx], inSituDepthB) }, inSituStyle)
            ]
        },
        options: {
            responsive: false,
            animation: false,
            layout: { padding: { top: M_TOP, right: M_RIGHT, left: 0, bottom: 0 } },
            plugins: {
                legend: { display: false },
                tooltip: { enabled: false },
                originFrame: {
                    name: name,
                    labelDx: LABEL_DX[col],
                    labelDy: LABEL_DY[row],
                    legend: idx === 0
                }
            },
            scales: {
                x: {
                    type: 'linear',
                    min: 1,
                    max: 30,
                    border: { display: false },
                    grid: { drawOnChartArea: false, tickLength: 5, color: AXIS, lineWidth: 1.2 },
                    ticks: {
                        stepSize: 5,
                        includeBounds: false,
                        autoSkip: false,
                        maxRotation: 0,
                        padding: 3,
                        color: '#111',
                        callback: v => row === 3 ? (v / 10000).toFixed(4) : ''
                    },
                    afterFit: s => { s.height = M_BOTTOM; }
                },
                y: {
                    type: 'linear',
                    min: -27.5,
                    max: 0,
                    border: { display: false },
                    grid: { drawOnChartArea: false, tickLength: 5, color: AXIS, lineWidth: 1.2 },
                    ticks: {
                        stepSize: 5,
                        includeBounds: false,
                        padding: 0,
                        color: '#111',
                        callback: v => col === 0 ? String(v) : ''
                    },
                    title: {
                        display: col === 0,
                        text: 'Depth (m)',
                        color: '#111',
                        font: { size: 14 },
                        padding: { top: 10, bottom: 0 }
                    },
                    afterFit: s => { s.width = M_LEFT; }
                }
            }
        },
        plugins: [framePlugin]
    });
});
</script>
</body>
</html>
